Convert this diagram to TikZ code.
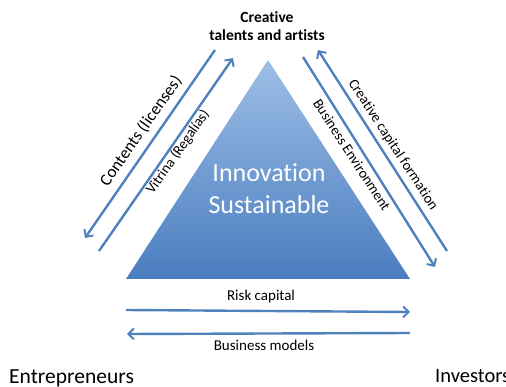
\documentclass[tikz,border=0pt]{standalone}
\usepackage{fontspec}
\setmainfont{Carlito}[Ligatures=NoCommon]
\usetikzlibrary{arrows.meta}
\definecolor{arrowblue}{HTML}{4F81BD}
\definecolor{tritop}{HTML}{9DBEE6}
\definecolor{tribot}{HTML}{4A7DC0}
\tikzset{
  flow/.style={draw=arrowblue, line width=2.4pt, -{Straight Barb[length=5.5pt,width=11pt,line width=2pt]}},
  lbl/.style={inner sep=0pt, font=\fontsize{14.5}{16}\selectfont},
  big/.style={inner sep=0pt, font=\fontsize{21.5}{24}\selectfont, anchor=base west}
}
\begin{document}
\begin{tikzpicture}[x=1pt,y=-1pt]
\useasboundingbox (0,0) rectangle (506,387);
% triangle
\coordinate (apex) at (268,60);
\coordinate (bl) at (126,279);
\coordinate (br) at (410,279);
\shade[top color=tritop, bottom color=tribot] (apex) -- (br) -- (bl) -- cycle;
\node[inner sep=0pt, text=white, align=center, font=\fontsize{26}{32}\selectfont] (inno) at (269,189) {Innovation\\Sustainable};
% labels
\node[inner sep=0pt, align=center, font=\bfseries\fontsize{15.5}{18}\selectfont] (talents) at (267,26) {Creative\\talents and artists};
\node[big] (entre) at (9,383) {Entrepreneurs};
\node[big, font=\fontsize{20.5}{23}\selectfont] (inv) at (435,382) {Investors};
% arrow end points
\coordinate (a1s) at (215,50); \coordinate (a1e) at (85,238);
\coordinate (a2s) at (99,251); \coordinate (a2e) at (233,58);
\coordinate (a3s) at (303,57); \coordinate (a3e) at (435,267);
\coordinate (a4s) at (447,251); \coordinate (a4e) at (318,50);
\coordinate (a5s) at (126,310); \coordinate (a5e) at (410,312);
\coordinate (a6s) at (410,333); \coordinate (a6e) at (127,334);
\draw[flow] (a1s) -- (a1e);
\draw[flow] (a2s) -- (a2e);
\draw[flow] (a3s) -- (a3e);
\draw[flow] (a4s) -- (a4e);
\draw[flow] (a5s) -- (a5e);
\draw[flow] (a6s) -- (a6e);
% arrow labels
\node[lbl, font=\fontsize{17}{19}\selectfont, rotate=55] (contents) at (141,131) {Contents (licenses)};
\node[lbl, rotate=55] (vitrina) at (178,152) {Vitrina (Regalías)};
\node[lbl, rotate=-57] (busenv) at (352,155) {Business Environment};
\node[lbl, rotate=-57] (ccf) at (393,145) {Creative capital formation};
\node[lbl, font=\fontsize{15}{17}\selectfont] (risk) at (261,297) {Risk capital};
\node[lbl, font=\fontsize{15}{17}\selectfont] (bm) at (264,345) {Business models};
\end{tikzpicture}
\end{document}
